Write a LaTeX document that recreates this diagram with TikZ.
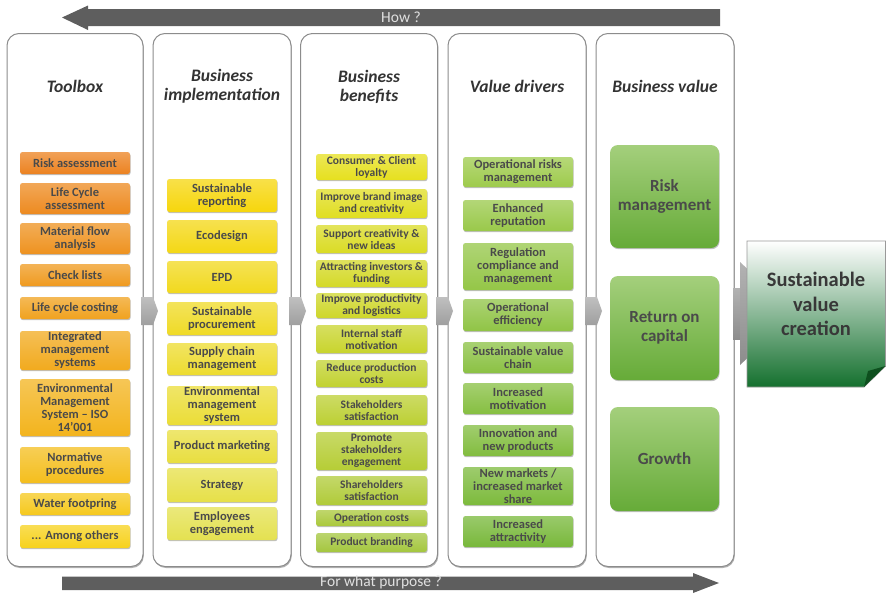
\documentclass[tikz,border=0pt]{standalone}
\usepackage{fontspec}
\setmainfont{Carlito}
\usetikzlibrary{shadows}
\definecolor{co1}{HTML}{EC8220}
\definecolor{cy1}{HTML}{F7D21C}
\definecolor{co2}{HTML}{F6D60C}
\definecolor{cy2}{HTML}{E4E150}
\definecolor{co3}{HTML}{E6E01E}
\definecolor{cy3}{HTML}{A4C63E}
\definecolor{co4}{HTML}{9ECB4C}
\definecolor{cy4}{HTML}{78B83A}
\definecolor{c5top}{HTML}{A4CF7C}
\definecolor{c5bot}{HTML}{66AB38}
\definecolor{txt}{HTML}{4A4A4A}
\definecolor{bar}{HTML}{5E5E5E}
\definecolor{chev}{HTML}{B0B0B0}
\definecolor{sg1}{HTML}{3F9A50}
\definecolor{sg2}{HTML}{14702E}
\definecolor{sgfold}{HTML}{0E4F1E}
\newcommand\bx[7]{\node[bxs,#6,minimum width={#3-#2},minimum height={#5-#4}] (#1) at ({(#2+#3)/2},{(#4+#5)/2}) {#7};}
\newcommand\chevr[2]{\path[chevs] (#1,297) -- ({#2-5},297) -- (#2,311) -- ({#2-5},325) -- (#1,325) -- cycle;}
\begin{document}
\begin{tikzpicture}[x=1pt,y=-1pt,
  colbox/.style={draw=black!45,line width=1pt,fill=white,rounded corners=12pt,inner sep=0pt,
    drop shadow={shadow xshift=0.8pt,shadow yshift=-1.5pt,opacity=0.3,fill=black}},
  title/.style={text=black!80,align=center,font=\fontsize{17.5}{19}\selectfont\bfseries\itshape},
  bxs/.style={rounded corners=2.5pt,inner sep=0pt,align=center,text=txt,
    font=\fontsize{12.5}{13}\selectfont\bfseries,
    drop shadow={shadow xshift=0.6pt,shadow yshift=-1.2pt,opacity=0.25,fill=black}},
  c1/.style={top color=cy1!#1!co1!75!white,bottom color=cy1!#1!co1},
  c2/.style={top color=cy2!#1!co2!75!white,bottom color=cy2!#1!co2},
  c3/.style={top color=cy3!#1!co3!75!white,bottom color=cy3!#1!co3,font=\fontsize{11.5}{12}\selectfont\bfseries},
  c4/.style={top color=cy4!#1!co4!75!white,bottom color=cy4!#1!co4},
  c5/.style={top color=c5top,bottom color=c5bot,rounded corners=8pt,font=\fontsize{17}{19}\selectfont\bfseries},
  chevs/.style={top color=chev!80!white,bottom color=chev!90!black},
  arrowlbl/.style={text=black!12,font=\fontsize{15.5}{16}\selectfont}
]
\useasboundingbox (0,0) rectangle (886,595);
% arrows
\fill[bar] (720,9) -- (88,9) -- (88,5.5) -- (62,17.5) -- (88,30) -- (88,26) -- (720,26) -- cycle;
\node[arrowlbl] (how) at (401,17) {How ?};
\fill[bar] (62,576.5) -- (693,576.5) -- (693,573) -- (719,583) -- (693,593) -- (693,590) -- (62,590) -- cycle;
\node[arrowlbl] (purpose) at (381,582) {For what purpose ?};
% columns
\node[colbox,minimum width=136,minimum height=533] (col1) at (75,300) {};
\node[colbox,minimum width=138,minimum height=533] (col2) at (222,300) {};
\node[colbox,minimum width=137,minimum height=533] (col3) at (369,300) {};
\node[colbox,minimum width=138,minimum height=533] (col4) at (517,300) {};
\node[colbox,minimum width=138,minimum height=533] (col5) at (665,300) {};
\node[title] (t1) at (75,86) {Toolbox};
\node[title] (t2) at (222,86.5) {Business\\implementation};
\node[title] (t3) at (369,86.5) {Business\\benefits};
\node[title] (t4) at (517,86) {Value drivers};
\node[title] (t5) at (665,86) {Business value};
% chevrons
\chevr{141}{158}
\chevr{289}{306}
\chevr{436}{453}
\chevr{585}{602}
% column 1
\bx{a1}{20}{130}{152}{174}{c1=0}{Risk assessment}
\bx{a2}{20}{130}{183}{214}{c1=10}{Life Cycle\\assessment}
\bx{a3}{20}{130}{223}{254}{c1=20}{Material flow\\analysis}
\bx{a4}{20}{130}{264}{286}{c1=30}{Check lists}
\bx{a5}{20}{130}{297}{319}{c1=40}{Life cycle costing}
\bx{a6}{20}{130}{331}{370}{c1=50}{Integrated\\management\\systems}
\bx{a7}{20}{130}{379}{436}{c1=62}{Environmental\\Management\\System – ISO\\14’001}
\bx{a8}{20}{130}{447}{483}{c1=75}{Normative\\procedures}
\bx{a9}{20}{130}{493}{515}{c1=88}{Water footpring}
\bx{a10}{20}{130}{525}{548}{c1=100}{... Among others}
% column 2
\bx{b1}{167}{277}{179}{212}{c2=0}{Sustainable\\reporting}
\bx{b2}{167}{277}{220}{253}{c2=12}{Ecodesign}
\bx{b3}{167}{277}{261}{293}{c2=25}{EPD}
\bx{b4}{167}{277}{302}{335}{c2=37}{Sustainable\\procurement}
\bx{b5}{167}{277}{343}{375}{c2=50}{Supply chain\\management}
\bx{b6}{167}{277}{386}{425}{c2=62}{Environmental\\management\\system}
\bx{b7}{167}{277}{430}{463}{c2=75}{Product marketing}
\bx{b8}{167}{277}{468}{502}{c2=88}{Strategy}
\bx{b9}{167}{277}{507}{540}{c2=100}{Employees\\engagement}
% column 3
\bx{d1}{316}{427}{154}{180}{c3=0}{Consumer \& Client\\loyalty}
\bx{d2}{316}{427}{189}{218}{c3=9}{Improve brand image\\and creativity}
\bx{d3}{316}{427}{225}{253}{c3=18}{Support creativity \&\\new ideas}
\bx{d4}{316}{427}{260}{287}{c3=27}{Attracting investors \&\\funding}
\bx{d5}{316}{427}{293}{318}{c3=36}{Improve productivity\\and logistics}
\bx{d6}{316}{427}{325}{353}{c3=45}{Internal staff\\motivation}
\bx{d7}{316}{427}{360}{387}{c3=55}{Reduce production\\costs}
\bx{d8}{316}{427}{395}{425}{c3=64}{Stakeholders\\satisfaction}
\bx{d9}{316}{427}{432}{470}{c3=73}{Promote\\stakeholders\\engagement}
\bx{d10}{316}{427}{476}{505}{c3=82}{Shareholders\\satisfaction}
\bx{d11}{316}{427}{510}{526}{c3=91}{Operation costs}
\bx{d12}{316}{427}{533}{552}{c3=100}{Product branding}
% column 4
\bx{e1}{463}{573}{157}{187}{c4=0}{Operational risks\\management}
\bx{e2}{463}{573}{200}{231}{c4=12}{Enhanced\\reputation}
\bx{e3}{463}{573}{243}{290}{c4=25}{Regulation\\compliance and\\management}
\bx{e4}{463}{573}{299}{331}{c4=37}{Operational\\efficiency}
\bx{e5}{463}{573}{342}{373}{c4=50}{Sustainable value\\chain}
\bx{e6}{463}{573}{383}{414}{c4=62}{Increased\\motivation}
\bx{e7}{463}{573}{425}{456}{c4=75}{Innovation and\\new products}
\bx{e8}{463}{573}{467}{505}{c4=88}{New markets /\\increased market\\share}
\bx{e9}{463}{573}{516}{547}{c4=100}{Increased\\attractivity}
% column 5
\bx{f1}{610}{719}{145}{248}{c5}{Risk\\management}
\bx{f2}{610}{719}{276}{380}{c5}{Return on\\capital}
\bx{f3}{610}{719}{407}{511}{c5}{Growth}
% final arrow and box
\path[top color=black!30,bottom color=black!45] (733,288) rectangle (742,339);
\path[top color=black!30,bottom color=black!45] (740,262) -- (795,313.5) -- (740,365) -- cycle;
\path[draw=black!40,line width=0.8pt,top color=white,middle color=sg1,bottom color=sg2]
  (747,241) -- (885.5,241) -- (885.5,366) -- (864,387) -- (747,387) -- cycle;
\fill[sgfold] (864,387) -- (885.5,366) -- (868,371) -- cycle;
\node[text=black!78,align=center,font=\fontsize{20.5}{24.5}\selectfont\bfseries] (svc) at (816,304) {Sustainable\\value\\creation};
\end{tikzpicture}
\end{document}
